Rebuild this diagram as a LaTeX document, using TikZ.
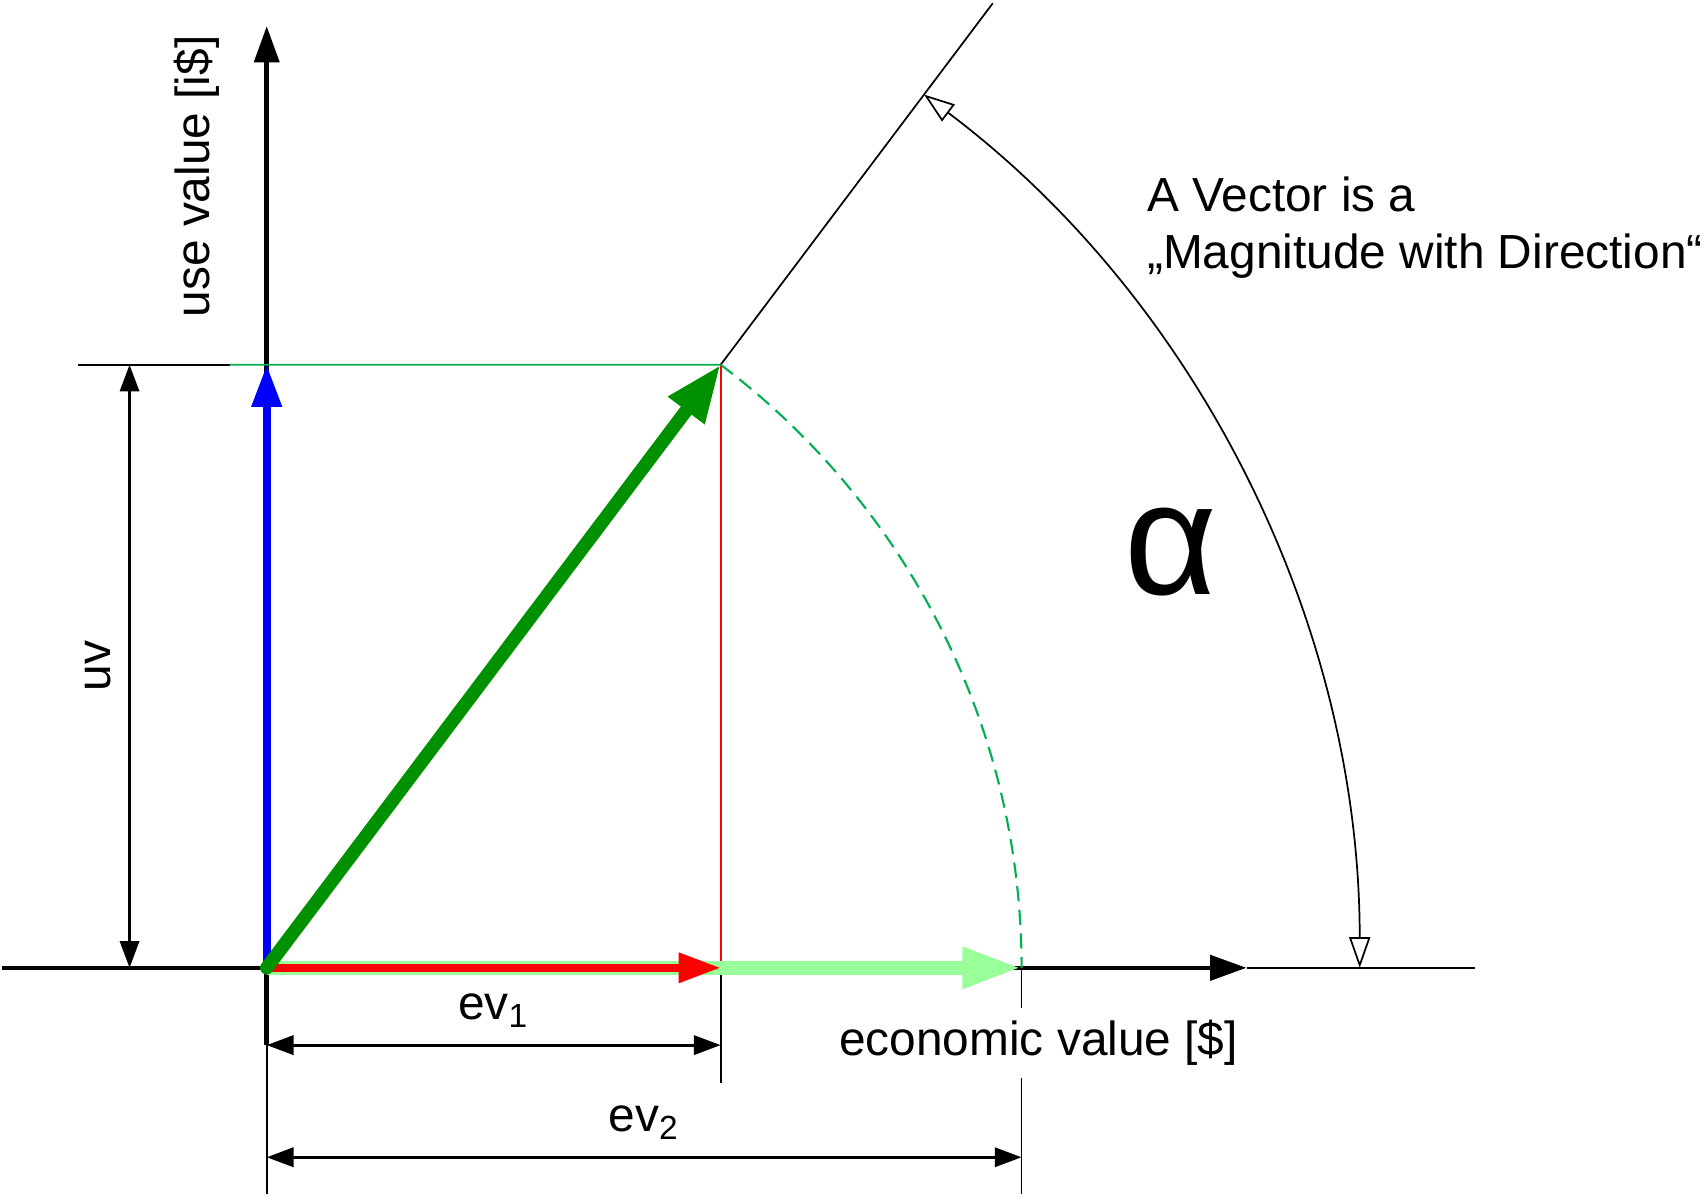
\documentclass[tikz,border=0pt]{standalone}
\usepackage{fontspec}
\setmainfont{Liberation Sans}
\usetikzlibrary{arrows.meta}
\definecolor{vecgreen}{RGB}{0,145,0}
\definecolor{lightgreen}{RGB}{153,255,153}
\definecolor{guidegreen}{RGB}{0,176,80}
\tikzset{txt/.style = {font=\fontsize{12.5}{14.8}\selectfont},
  axisline/.style = {line width=1.2pt, -{Triangle[length=9.5pt,width=6.5pt]}},
  dimline/.style = {line width=0.8pt, {Triangle[length=7pt,width=5pt]}-{Triangle[length=7pt,width=5pt]}},
  thinline/.style = {line width=0.45pt},
  anglearc/.style = {thinline, {Triangle[open,length=8pt,width=5.5pt]}-{Triangle[open,length=8pt,width=5.5pt]}}}

\begin{document}
\begin{tikzpicture}[txt]
  \useasboundingbox (-2.45,-2.10) rectangle (13.23,8.89);
  \coordinate (O) at (0,0);
  \coordinate (P) at (53.03:6.934);
  \coordinate (Q) at (6.934,0);
  \coordinate (Px) at (O -| P);
  \coordinate (Py) at (O |- P);
  \coordinate (R) at (53.03:11.09);
  \coordinate (xl) at (-2.43,0);
  \coordinate (xr) at (9.0,0);
  \coordinate (xe) at (11.1,0);
  \coordinate (yb) at (0,-0.71);
  \coordinate (yt) at (0,8.65);
  % axes
  \draw[axisline] (xl) -- (xr);
  \draw[thinline] (xr) -- (xe);
  \draw[axisline] (yb) -- (yt);
  \node[rotate=90] (uvaxis) at (-0.64,7.27) {use value [i\$]};
  % guide lines
  \draw[thinline] (-1.73,5.54) -- (-0.34,5.54);
  \draw[thinline, guidegreen] (-0.34,5.54) -- (P);
  \draw[thinline, red] (P) -- (Px);
  \draw[thinline] (Px) -- ++(0,-1.06);
  \draw[thinline] (yb) -- (0,-2.08);
  \draw[thinline] (Q) -- (6.934,-2.08);
  \draw[thinline] (P) -- (R);
  \draw[guidegreen, line width=0.55pt, dash pattern=on 4pt off 2.2pt]
    (P) arc[start angle=53.03, end angle=0, radius=6.934];
  \node[fill=white] (evaxis) at (7.09,-0.69) {economic value [\$]};
  % vectors
  \draw[line width=3.6pt, lightgreen, -{Triangle[length=15.5pt,width=10pt]}] (O) -- (Q);
  \draw[line width=2pt, red, -{Triangle[length=11pt,width=7.5pt]}] (O) -- (Px);
  \draw[line width=2.1pt, blue, -{Triangle[length=11pt,width=7.5pt]}] (O) -- (Py);
  \draw[line width=3.5pt, vecgreen, line cap=round, -{Triangle[length=15pt,width=11pt]}] (O) -- (P);
  % dimensions
  \draw[dimline] (-1.26,0) -- node[midway, sloped, above=1pt] {uv} (-1.26,5.54);
  \draw[dimline] (yb) -- node[above=1pt] {ev\textsubscript{1}} (P |- yb);
  \draw[dimline] (0,-1.74) -- node[above=1pt] {ev\textsubscript{2}} (6.934,-1.74);
  % angle
  \draw[anglearc] (10.04,0) arc[start angle=0, end angle=53.03, radius=10.04];
  \node[font=\fontsize{42}{50}\selectfont] (alpha) at (8.31,3.82) {α};
  \node[align=left, anchor=north west, inner sep=0pt] (note) at (8.08,7.27)
    {A Vector is a\\„Magnitude with Direction“};
\end{tikzpicture}
\end{document}
